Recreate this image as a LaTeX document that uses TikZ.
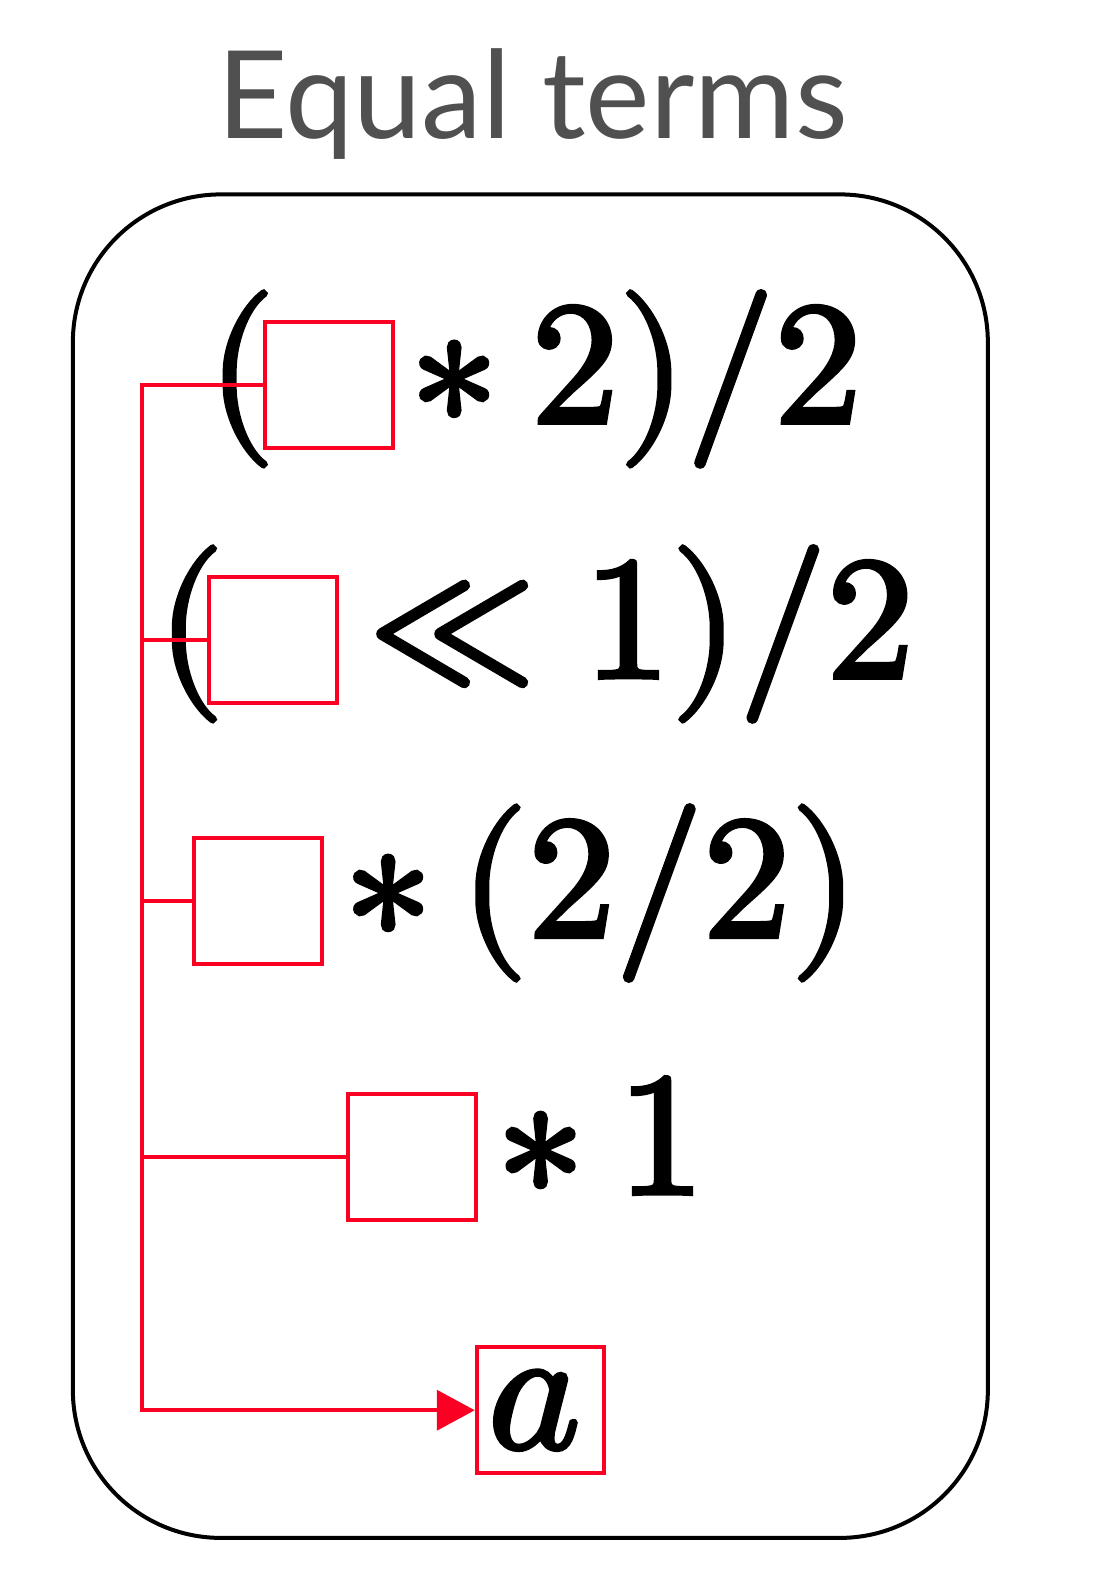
\documentclass[tikz,border=0pt]{standalone}
\usepackage{fontspec}
\newfontfamily\titlefont{Lato}
\newfontfamily\eqfont{latinmodern-math.otf}[FakeBold=2.6]
\usetikzlibrary{arrows.meta}
\definecolor{redbox}{RGB}{250,0,35}
\definecolor{titlegray}{RGB}{80,80,80}
\begin{document}
\begin{tikzpicture}[x=0.2032pt,y=-0.2032pt,
  hole/.style={draw=redbox,line width=0.8pt,minimum width=25.5pt,minimum height=25.3pt,inner sep=0pt},
  mathtxt/.style={anchor=base west,inner sep=0pt,font=\eqfont\fontsize{35}{40}\selectfont},
  conn/.style={draw=redbox,line width=0.8pt},
  framebox/.style={draw=black,line width=0.8pt,rounded corners=29.6pt,minimum width=183pt,minimum height=268.7pt,inner sep=0pt}]
\useasboundingbox (0pt,0pt) rectangle (222pt,-318.8pt);
\node[font=\titlefont\fontsize{24.4}{28}\selectfont,text=titlegray,anchor=base,inner sep=0pt] (title) at (524,136) {Equal terms};
\node[framebox] (frame) at (522,852.5) {};
% row 1
\node[mathtxt] (p1) at (203,416) {(};
\node[hole] (b1) at (324,379) {};
\node[mathtxt] (r1) at (403,416) {∗\hspace{0.19em}2)/2};
% row 2
\node[mathtxt] (p2) at (153,667) {(};
\node[hole] (b2) at (268.5,630) {};
\node[mathtxt] (r2) at (358,667) {≪\hspace{0.25em}1)/2};
% row 3
\node[hole] (b3) at (254,887) {};
\node[mathtxt] (r3) at (338,922) {∗\hspace{0.16em}(2/2)};
% row 4
\node[hole] (b4) at (405.5,1139) {};
\node[mathtxt] (r4) at (488,1175) {∗\hspace{0.19em}1};
% row 5
\node[hole] (b5) at (532,1388) {};
\node[mathtxt,anchor=center,xshift=-1.2pt] (av) at (b5.center) {𝑎};
% connectors
\coordinate (spine) at (140,379);
\draw[conn,-{Triangle[length=7.6pt,width=8pt]}] (b1.west) -- (spine) -- (spine |- b5.west) -- (b5.west);
\draw[conn] (b2.west) -- (spine |- b2.west);
\draw[conn] (b3.west) -- (spine |- b3.west);
\draw[conn] (b4.west) -- (spine |- b4.west);
\end{tikzpicture}
\end{document}
